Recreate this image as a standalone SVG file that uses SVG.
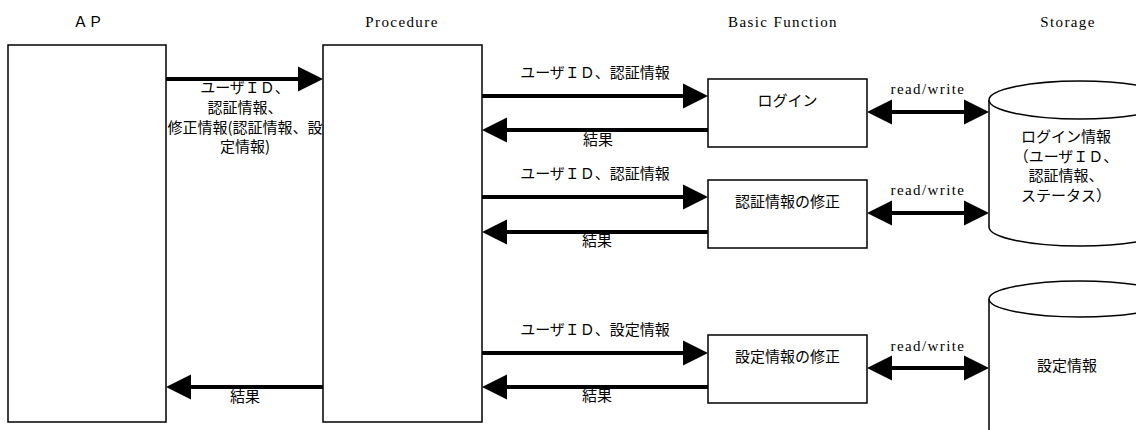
<svg xmlns="http://www.w3.org/2000/svg" width="1136" height="430" viewBox="0 0 1136 430">
  <style>
    .box { fill: #ffffff; stroke: #000000; stroke-width: 1.5; }
    .cyl { fill: #ffffff; stroke: #000000; stroke-width: 1.5; }
    .flow { fill: none; stroke: #000000; stroke-width: 4; }
    .jp { font-family: "Noto Sans CJK JP", "Noto Sans", sans-serif; font-size: 15px; fill: #000000; text-anchor: middle; }
    .title { font-family: "Liberation Serif", "Times New Roman", serif; font-size: 15px; letter-spacing: 1.4px; fill: #000000; text-anchor: middle; }
  </style>
  <defs>
    <marker id="head" markerUnits="userSpaceOnUse" markerWidth="26" markerHeight="26" refX="0" refY="12.5" orient="auto-start-reverse" viewBox="0 0 26 26" overflow="visible">
      <path d="M0,0 L25,12.5 L0,25 Z" fill="#000000"/>
    </marker>
  </defs>

  <rect width="1136" height="430" fill="#ffffff"/>

  <!-- column headings -->
  <g id="headings">
    <text class="jp" x="88" y="27">ＡＰ</text>
    <text class="title" x="402" y="26.5">Procedure</text>
    <text class="title" x="783" y="26.5">Basic Function</text>
    <text class="title" x="1068" y="26.5">Storage</text>
  </g>

  <g id="ap">
    <rect class="box" x="8" y="45" width="158" height="377"/>
  </g>

  <g id="procedure">
    <rect class="box" x="323" y="45" width="159" height="377"/>
  </g>

  <g id="login">
    <rect class="box" x="708" y="79" width="159" height="68"/>
    <text class="jp" x="787.5" y="105.5">ログイン</text>
  </g>

  <g id="auth-update">
    <rect class="box" x="708" y="180" width="159" height="68"/>
    <text class="jp" x="787.5" y="207">認証情報の修正</text>
  </g>

  <g id="settings-update">
    <rect class="box" x="708" y="335" width="159" height="68"/>
    <text class="jp" x="787.5" y="361.5">設定情報の修正</text>
  </g>

  <g id="login-store">
    <path class="cyl" d="M989,100 A91,19 0 0 1 1171,100 L1171,227 A91,19 0 0 1 989,227 Z"/>
    <path class="cyl" d="M989,100 A91,19 0 0 0 1171,100" fill="none"/>
    <text class="jp" x="1066" y="142">ログイン情報</text>
    <text class="jp" x="1066" y="161.5">（ユーザＩＤ、</text>
    <text class="jp" x="1066" y="181">認証情報、</text>
    <text class="jp" x="1066" y="200.5">ステータス）</text>
  </g>

  <g id="settings-store">
    <path class="cyl" d="M989,299 A91,18 0 0 1 1171,299 L1171,460 L989,460 Z"/>
    <path class="cyl" d="M989,299 A91,18 0 0 0 1171,299" fill="none"/>
    <text class="jp" x="1067" y="370.5">設定情報</text>
  </g>

  <g id="connectors">
    <!-- AP to Procedure -->
    <path class="flow" d="M166,79 H298" marker-end="url(#head)"/>
    <text class="jp" x="245" y="93">ユーザＩＤ、</text>
    <text class="jp" x="245" y="113">認証情報、</text>
    <text class="jp" x="245" y="133">修正情報(認証情報、設</text>
    <text class="jp" x="245" y="152">定情報)</text>

    <!-- Procedure to AP -->
    <path class="flow" d="M323,387 H191" marker-end="url(#head)"/>
    <text class="jp" x="245" y="402">結果</text>

    <!-- login -->
    <path class="flow" d="M482,96 H683" marker-end="url(#head)"/>
    <text class="jp" x="595" y="78">ユーザＩＤ、認証情報</text>
    <path class="flow" d="M708,130 H507" marker-end="url(#head)"/>
    <text class="jp" x="598" y="144.5">結果</text>

    <!-- authentication update -->
    <path class="flow" d="M482,197 H683" marker-end="url(#head)"/>
    <text class="jp" x="595" y="178.5">ユーザＩＤ、認証情報</text>
    <path class="flow" d="M708,232 H507" marker-end="url(#head)"/>
    <text class="jp" x="597" y="246">結果</text>

    <!-- settings update -->
    <path class="flow" d="M482,353 H683" marker-end="url(#head)"/>
    <text class="jp" x="595" y="334.5">ユーザＩＤ、設定情報</text>
    <path class="flow" d="M708,387 H507" marker-end="url(#head)"/>
    <text class="jp" x="597" y="400.5">結果</text>

    <!-- storage access -->
    <path class="flow" d="M892,112 H964" marker-start="url(#head)" marker-end="url(#head)"/>
    <text class="title" x="928" y="94">read/write</text>
    <path class="flow" d="M892,213 H964" marker-start="url(#head)" marker-end="url(#head)"/>
    <text class="title" x="928" y="195">read/write</text>
    <path class="flow" d="M892,368 H964" marker-start="url(#head)" marker-end="url(#head)"/>
    <text class="title" x="928" y="350.5">read/write</text>
  </g>
</svg>
